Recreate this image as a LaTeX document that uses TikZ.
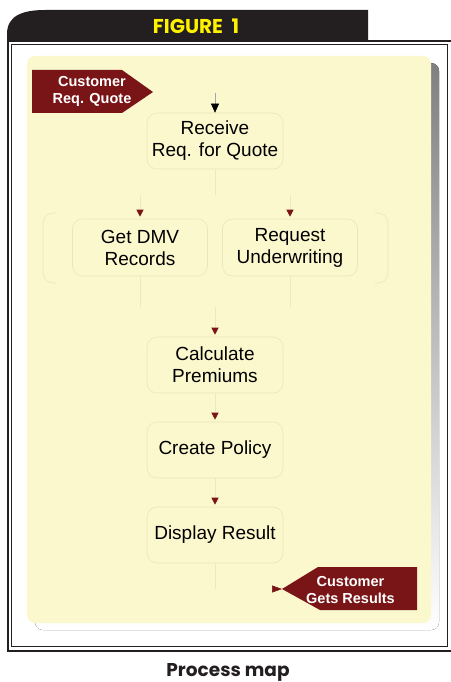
\documentclass[tikz,border=0pt]{standalone}
\usepackage{fontspec}
\setmainfont{Liberation Sans}
\newfontfamily\titlefont{Poppins}
\usetikzlibrary{arrows.meta}
\definecolor{panel}{HTML}{FCF8CE}
\definecolor{shade}{HTML}{878787}
\definecolor{darkred}{HTML}{7A1517}
\definecolor{tabblack}{HTML}{231F20}
\definecolor{titleyellow}{HTML}{FFF200}
\definecolor{faint}{HTML}{EDE4BC}
\definecolor{faintline}{HTML}{EFE7C3}
\tikzset{
  procbox/.style={draw=faint, line width=0.6pt, rounded corners=10pt,
    minimum width=136pt, minimum height=56pt, align=center,
    font=\fontsize{19}{22}\selectfont, text=black},
  redtext/.style={align=center, text=white, font=\bfseries\fontsize{14.5}{17}\selectfont},
  conn/.style={draw=faintline, line width=0.8pt},
  redarr/.style={conn, -{Triangle[width=7pt,length=7pt,color=darkred,fill=darkred]}, shorten >=2pt},
  blackarr/.style={draw=black!35, line width=0.5pt, -{Triangle[width=8pt,length=9pt,color=black,fill=black]}}
}
\begin{document}
\begin{tikzpicture}[x=1pt,y=-1pt]
\useasboundingbox (0,0) rectangle (450,682);
\fill[white] (0,0) rectangle (450,682);
% black tab
\fill[tabblack] (7,40) -- (7,34) .. controls (7,16) and (22,10) .. (45,10) -- (368,10) -- (368,40) -- cycle;
\node[text=titleyellow, font=\titlefont\bfseries\fontsize{20}{22}\selectfont] (title) at (196,26) {FIGURE\ \ 1};
% double frame
\draw[line width=2pt, tabblack] (7.5,41) -- (455,41);
\draw[line width=2pt, tabblack] (7.5,40) -- (7.5,650.5) -- (455,650.5);
\draw[line width=1pt, tabblack] (11.5,44.5) rectangle (447.5,646.5);
% panel
\fill[shade, rounded corners=8pt] (35,63) rectangle (439,630);
\fill[panel, rounded corners=8pt] (27,56) rectangle (431,623);
% group brackets
\draw[faint, line width=0.6pt, rounded corners=10pt] (56,213) -- (43,213) -- (43,283) -- (56,283);
\draw[faint, line width=0.6pt, rounded corners=10pt] (375,213) -- (388,213) -- (388,283) -- (375,283);
% process boxes
\node[procbox] (recv) at (215,141) {Receive\\Req. for Quote};
\node[procbox, minimum width=135pt, minimum height=57pt] (dmv) at (140,247.5) {Get DMV\\Records};
\node[procbox, minimum width=135pt, minimum height=57pt] (uw) at (290,247.5) {Request\\Underwriting};
\node[procbox] (calc) at (215,365) {Calculate\\Premiums};
\node[procbox] (create) at (215,450) {Create Policy};
\node[procbox] (disp) at (215,535) {Display Result};
% input arrow shape
\fill[darkred] (32,70) -- (122,70) -- (153,92) -- (122,113) -- (32,113) -- cycle;
\node[redtext] (inq) at (92,91.5) {Customer\\Req. Quote};
% output arrow shape
\fill[darkred] (417,567) -- (318,567) -- (282,589) -- (320,610) -- (417,610) -- cycle;
\node[redtext] (outr) at (350.5,590) {Customer\\Gets Results};
\coordinate (outtip) at (282,589);
% connectors
\coordinate (start) at (215,93);
\draw[blackarr] (start) -- (recv.north);
\coordinate (fork) at (215,195);
\draw[conn] (recv.south) -- (fork);
\draw[redarr] (dmv.north |- fork) -- (dmv.north);
\draw[redarr] (uw.north |- fork) -- (uw.north);
\coordinate (join) at (215,307);
\draw[conn] (dmv.south) -- (dmv.south |- join);
\draw[conn] (uw.south) -- (uw.south |- join);
\draw[redarr] (join) -- (calc.north);
\draw[redarr] (calc.south) -- (create.north);
\draw[redarr] (create.south) -- (disp.north);
\coordinate (bend) at (215,589);
\draw[conn] (disp.south) -- (bend);
\coordinate (pre) at (271,589);
\draw[draw=panel, line width=0.5pt, -{Triangle[width=7pt,length=10pt,color=darkred,fill=darkred]}] (pre) -- (outtip);
% caption
\node[anchor=base, font=\titlefont\bfseries\fontsize{18.5}{20}\selectfont, text=tabblack] (cap) at (228,676) {Process map};
\end{tikzpicture}
\end{document}
